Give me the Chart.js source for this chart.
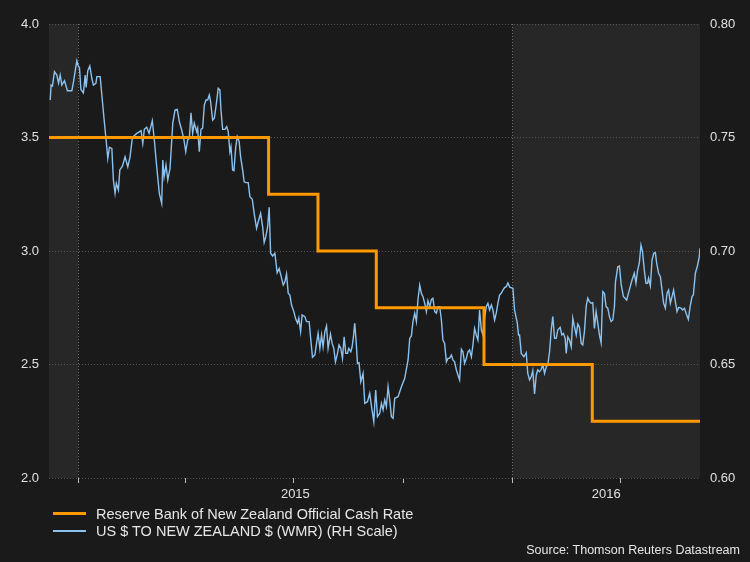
<!DOCTYPE html>
<html>
<head>
<meta charset="utf-8">
<script src="https://cdn.jsdelivr.net/npm/chart.js@4.4.1/dist/chart.umd.min.js"></script>
<style>
  html, body { margin: 0; padding: 0; background: #1a1a1a; }
  #wrap { position: relative; width: 750px; height: 562px; }
  #chart { position: absolute; left: 0; top: 0; }
  .legend { position: absolute; left: 53px; top: 505px; font: 14.5px "Liberation Sans", Arial, sans-serif; color: #e6e6e6; }
  .legend div { height: 17px; display: flex; align-items: center; white-space: nowrap; }
  .legend .swatch { display: inline-block; width: 33px; margin-right: 10px; }
  .source { position: absolute; right: 10px; top: 543px; font: 12.5px "Liberation Sans", Arial, sans-serif; color: #e6e6e6; }
</style>
</head>
<body>
<div id="wrap">
  <canvas id="chart" width="750" height="562"></canvas>
  <div class="legend">
    <div><span class="swatch" style="border-top:3px solid #ff9900"></span>Reserve Bank of New Zealand Official Cash Rate</div>
    <div><span class="swatch" style="border-top:2px solid #8cc2ef"></span>US $ TO NEW ZEALAND $ (WMR) (RH Scale)</div>
  </div>
  <div class="source">Source: Thomson Reuters Datastream</div>
</div>
<script>
// x values are days since 1 Jan 2015
const ocrDays = [-24.5, 160, 201.5, 250.5, 341, 432, 522.5];
const ocrRates = [3.5, 3.25, 3.0, 2.75, 2.5, 2.25, 2.25];

const fxDays = [
  -23.5, -22.7, -21.6, -19.9, -17.9, -16.5, -15.1, -13.7, -11.5, -9.0,
  -5.3, -3.9, -1.1, 0.3, 1.1, 2.3, 4.4, 5.9, 6.7, 8.1,
  9.8, 11.5, 12.8, 14.9, 15.7, 18.5, 19.9, 22.1, 23.5, 24.9,
  26.3, 28.3, 29.6, 31.0, 32.1, 33.8, 35.0, 37.2, 39.4, 41.7,
  43.6, 45.6, 49.3, 52.9, 54.3, 55.6, 57.6, 59.6, 62.3, 64.0,
  66.0, 68.2, 70.2, 71.1, 72.2, 73.8, 75.3, 77.2, 79.5, 81.4,
  83.3, 85.0, 87.0, 88.9, 90.4, 92.0, 93.4, 94.8, 96.2, 97.6,
  99.6, 100.4, 101.8, 103.2, 104.6, 106.0, 107.4, 108.8, 110.2, 111.3,
  113.0, 114.4, 115.8, 117.7, 119.1, 120.0, 121.4, 123.3, 124.8, 126.1,
  127.5, 128.4, 129.8, 130.9, 132.3, 133.7, 135.3, 136.5, 138.2, 139.5,
  141.0, 142.9, 144.3, 146.3, 147.9, 149.9, 151.3, 153.3, 155.0, 156.3,
  157.7, 159.2, 160.5, 161.7, 163.4, 165.3, 167.2, 168.9, 170.3, 172.3,
  173.7, 175.1, 176.5, 177.9, 179.3, 181.2, 182.9, 184.3, 185.4, 186.9,
  188.2, 190.5, 191.9, 194.1, 195.5, 196.9, 198.9, 200.3, 201.6, 203.1,
  204.5, 205.8, 207.3, 208.7, 210.0, 212.0, 213.4, 214.8, 216.2, 217.9,
  219.2, 220.7, 222.1, 223.5, 224.9, 226.3, 227.4, 229.1, 230.2, 231.3,
  232.4, 233.5, 234.7, 236.0, 237.5, 239.4, 240.8, 243.1, 245.0, 246.9,
  248.4, 250.0, 251.5, 253.4, 254.8, 256.2, 257.6, 259.0, 260.4, 261.8,
  263.2, 264.6, 266.0, 268.8, 271.6, 274.4, 277.2, 278.6, 280.0, 281.3,
  282.8, 284.2, 285.5, 287.0, 288.4, 289.7, 291.2, 292.6, 293.9, 295.4,
  296.8, 298.1, 299.6, 301.0, 302.3, 303.8, 305.2, 306.5, 307.9, 309.4,
  310.7, 312.1, 313.6, 314.9, 316.3, 317.8, 319.1, 320.5, 322.0, 323.3,
  324.7, 326.2, 327.5, 328.9, 330.4, 331.7, 333.1, 334.5, 335.9, 337.3,
  338.8, 340.1, 341.5, 342.9, 344.3, 345.7, 347.2, 348.5, 349.9, 351.3,
  352.7, 354.1, 355.5, 356.9, 358.3, 359.7, 361.1, 362.6, 365.3, 366.7,
  369.0, 370.0, 370.9, 372.3, 374.5, 376.5, 377.8, 379.3, 380.7, 382.0,
  383.5, 384.9, 386.2, 387.7, 389.1, 390.4, 391.9, 393.3, 394.6, 396.1,
  397.5, 398.8, 400.3, 401.7, 403.0, 405.0, 406.4, 407.8, 409.2, 410.1,
  411.4, 412.8, 414.3, 415.6, 417.0, 418.5, 419.8, 421.2, 422.7, 424.0,
  425.4, 426.9, 428.2, 429.6, 431.0, 432.4, 433.8, 435.2, 436.6, 438.0,
  439.4, 440.8, 442.2, 443.6, 445.0, 446.4, 447.8, 449.2, 450.6, 451.5,
  453.4, 454.8, 456.2, 458.1,
  460.9, 463.1, 465.4, 467.3, 468.7, 470.1, 471.5, 472.9, 474.2, 475.7,
  477.1, 478.5, 479.3, 480.8, 482.2, 483.6, 485.0, 486.1, 487.7, 489.2,
  490.6, 491.9, 493.4, 494.8, 496.1, 497.6, 499.0, 500.3, 501.8, 503.2,
  504.6, 506.6, 507.9, 509.4, 510.8, 512.7, 514.2, 515.8, 516.9, 518.6,
  520.5, 521.9, 522.5
];
const fxRates = [
  0.7665, 0.7731, 0.7727, 0.7790, 0.7775, 0.7740, 0.7775, 0.7731, 0.7750, 0.7706,
  0.7706, 0.7746, 0.7838, 0.7812, 0.7809, 0.7712, 0.7697, 0.7775, 0.7721, 0.7794,
  0.7815, 0.7761, 0.7731, 0.7739, 0.7768, 0.7768, 0.7687, 0.7563, 0.7489, 0.7408,
  0.7457, 0.7452, 0.7313, 0.7254, 0.7298, 0.7269, 0.7357, 0.7374, 0.7415, 0.7371,
  0.7415, 0.7501, 0.7518, 0.7530, 0.7474, 0.7536, 0.7545, 0.7518, 0.7574, 0.7489,
  0.7371, 0.7254, 0.7210, 0.7401, 0.7327, 0.7379, 0.7313, 0.7364, 0.7563, 0.7621,
  0.7624, 0.7570, 0.7533, 0.7489, 0.7437, 0.7489, 0.7496, 0.7609, 0.7518, 0.7563,
  0.7526, 0.7541, 0.7437, 0.7536, 0.7541, 0.7643, 0.7665, 0.7665, 0.7687, 0.7658,
  0.7577, 0.7585, 0.7636, 0.7717, 0.7709, 0.7621, 0.7536, 0.7536, 0.7548, 0.7526,
  0.7437, 0.7459, 0.7357, 0.7354, 0.7452, 0.7504, 0.7482, 0.7415, 0.7357, 0.7305,
  0.7301, 0.7301, 0.7239, 0.7228, 0.7166, 0.7100, 0.7129, 0.7166, 0.7107, 0.7037,
  0.7063, 0.7107, 0.7193, 0.6990, 0.6978, 0.6990, 0.6904, 0.6923, 0.6894, 0.6850,
  0.6865, 0.6899, 0.6814, 0.6806, 0.6762, 0.6733, 0.6699, 0.6682, 0.6704, 0.6645,
  0.6718, 0.6711, 0.6689, 0.6689, 0.6608, 0.6532, 0.6542, 0.6593, 0.6637, 0.6571,
  0.6630, 0.6578, 0.6645, 0.6670, 0.6571, 0.6634, 0.6593, 0.6571, 0.6512, 0.6549,
  0.6586, 0.6571, 0.6527, 0.6622, 0.6549, 0.6549, 0.6571, 0.6556, 0.6578, 0.6622,
  0.6682, 0.6608, 0.6505, 0.6508, 0.6424, 0.6461, 0.6329, 0.6336, 0.6373, 0.6300,
  0.6248, 0.6388, 0.6270, 0.6285, 0.6329, 0.6300, 0.6344, 0.6314, 0.6402, 0.6344,
  0.6270, 0.6263, 0.6351, 0.6358, 0.6402, 0.6439, 0.6520, 0.6615, 0.6626, 0.6689,
  0.6726, 0.6689, 0.6784, 0.6850, 0.6814, 0.6799, 0.6770, 0.6733, 0.6781, 0.6755,
  0.6787, 0.6792, 0.6733, 0.6726, 0.6755, 0.6755, 0.6696, 0.6608, 0.6593, 0.6512,
  0.6527, 0.6527, 0.6542, 0.6520, 0.6512, 0.6476, 0.6454, 0.6432, 0.6567, 0.6556,
  0.6505, 0.6527, 0.6556, 0.6564, 0.6534, 0.6586, 0.6659, 0.6630, 0.6608, 0.6740,
  0.6652, 0.6630, 0.6704, 0.6755, 0.6770, 0.6740, 0.6762, 0.6740, 0.6696, 0.6726,
  0.6770, 0.6806, 0.6814, 0.6828, 0.6839, 0.6843, 0.6859, 0.6841, 0.6836, 0.6740,
  0.6682, 0.6630, 0.6630, 0.6549, 0.6534, 0.6552, 0.6461, 0.6432, 0.6446, 0.6473,
  0.6370, 0.6454, 0.6476, 0.6468, 0.6479, 0.6498, 0.6461, 0.6490, 0.6498, 0.6556,
  0.6652, 0.6711, 0.6615, 0.6615, 0.6652, 0.6664, 0.6630, 0.6637, 0.6615, 0.6549,
  0.6622, 0.6608, 0.6578, 0.6704, 0.6667, 0.6630, 0.6678, 0.6664, 0.6593, 0.6586,
  0.6645, 0.6758, 0.6792, 0.6777, 0.6770, 0.6772, 0.6659, 0.6733, 0.6682, 0.6630,
  0.6596, 0.6821, 0.6814, 0.6755, 0.6748, 0.6711, 0.6689, 0.6696, 0.6755, 0.6865,
  0.6931, 0.6934, 0.6855, 0.6800,
  0.6784, 0.6828, 0.6872, 0.6902, 0.6858, 0.6916, 0.6946, 0.7026, 0.6997, 0.6916,
  0.6858, 0.6858, 0.6880, 0.6846, 0.6960, 0.6990, 0.6993, 0.6946, 0.6902, 0.6887,
  0.6828, 0.6770, 0.6748, 0.6814, 0.6828, 0.6770, 0.6799, 0.6828, 0.6777, 0.6733,
  0.6752, 0.6748, 0.6740, 0.6748, 0.6726, 0.6699, 0.6755, 0.6799, 0.6806, 0.6902,
  0.6938, 0.6975, 0.7012
];

const yearStarts = [0, 365];
const quarterTicks = [90, 181, 273, 456];
const yearLabelDays = [182.5, 443.75];
const yearLabels = ["2015", "2016"];
const leftTicks = [2.0, 2.5, 3.0, 3.5, 4.0];
const rightTicks = [0.60, 0.65, 0.70, 0.75, 0.80];

const bandPlugin = {
  id: "bands",
  beforeDraw(chart) {
    const ctx = chart.ctx;
    const area = chart.chartArea;
    const x = chart.scales.x;
    ctx.save();
    ctx.fillStyle = "#1a1a1a";
    ctx.fillRect(0, 0, chart.width, chart.height);
    ctx.fillStyle = "#272727";
    const x0 = x.getPixelForValue(yearStarts[0]);
    const x1 = x.getPixelForValue(yearStarts[1]);
    ctx.fillRect(area.left, area.top, x0 - area.left, area.bottom - area.top);
    ctx.fillRect(x1, area.top, area.right - x1, area.bottom - area.top);
    ctx.restore();
  }
};

Chart.defaults.font.family = '"Liberation Sans", Arial, sans-serif';
Chart.defaults.font.size = 13;
Chart.defaults.color = "#e0e0e0";

new Chart(document.getElementById("chart"), {
  type: "line",
  data: {
    datasets: [
      {
        label: "Reserve Bank of New Zealand Official Cash Rate",
        data: ocrDays.map((d, i) => ({ x: d, y: ocrRates[i] })),
        yAxisID: "y",
        borderColor: "#ff9900",
        borderWidth: 3,
        stepped: "before",
        pointRadius: 0
      },
      {
        label: "US $ TO NEW ZEALAND $ (WMR) (RH Scale)",
        data: fxDays.map((d, i) => ({ x: d, y: fxRates[i] })),
        yAxisID: "y1",
        borderColor: "#8cc2ef",
        borderWidth: 1.4,
        pointRadius: 0,
        tension: 0
      }
    ]
  },
  options: {
    responsive: false,
    animation: false,
    devicePixelRatio: 1,
    layout: { padding: { top: 24, left: 0, right: 0, bottom: 0 } },
    plugins: {
      legend: { display: false },
      tooltip: { enabled: false }
    },
    scales: {
      x: {
        type: "linear",
        min: -24.5,
        max: 522.5,
        afterBuildTicks: (s) => {
          s.ticks = [...yearStarts, ...quarterTicks, ...yearLabelDays]
            .sort((a, b) => a - b)
            .map((v) => ({ value: v }));
        },
        afterFit: (s) => { s.height = 84; },
        ticks: {
          autoSkip: false,
          maxRotation: 0,
          padding: 4,
          callback: (v) => {
            const i = yearLabelDays.indexOf(v);
            return i >= 0 ? yearLabels[i] : "";
          }
        },
        grid: {
          color: (c) => (c.tick && yearStarts.includes(c.tick.value) ? "#707070" : "transparent"),
          tickColor: (c) => (c.tick && yearLabelDays.includes(c.tick.value) ? "transparent" : "#bbbbbb"),
          tickLength: 5,
          lineWidth: 1
        },
        border: { display: false, dash: [1, 2] }
      },
      y: {
        position: "left",
        min: 2,
        max: 4,
        afterBuildTicks: (s) => { s.ticks = leftTicks.map((v) => ({ value: v })); },
        afterFit: (s) => { s.width = 49; },
        ticks: { padding: 10, callback: (v) => v.toFixed(1) },
        grid: { color: "#555555", drawTicks: false },
        border: { display: false, dash: [1, 2] }
      },
      y1: {
        position: "right",
        min: 0.6,
        max: 0.8,
        afterBuildTicks: (s) => { s.ticks = rightTicks.map((v) => ({ value: v })); },
        afterFit: (s) => { s.width = 50; },
        ticks: { padding: 10, callback: (v) => v.toFixed(2) },
        grid: { drawOnChartArea: false, drawTicks: false },
        border: { display: false }
      }
    }
  },
  plugins: [bandPlugin]
});
</script>
</body>
</html>
